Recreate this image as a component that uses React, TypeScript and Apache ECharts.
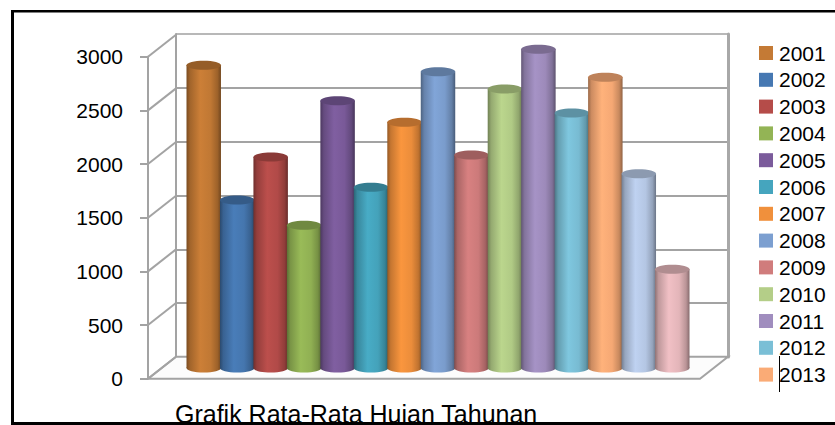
import React, { useEffect, useRef } from "react";
import * as echarts from "echarts";

const years = ["2001", "2002", "2003", "2004", "2005", "2006", "2007", "2008", "2009", "2010", "2011", "2012", "2013", "2014", "2015"];
const legendYears = years.slice(0, 13);
const rainfall = [2820, 1565, 1965, 1330, 2490, 1685, 2290, 2760, 1985, 2600, 2970, 2375, 2710, 1810, 920];
const barColors = ["#C47A35", "#4678B2", "#B54C49", "#93B455", "#7B5B9B", "#45A5BE", "#F0903C", "#7C9FD0", "#D07C7C", "#B4CE88", "#A08DBE", "#7ABFD6", "#FAAB76", "#B8CAE8", "#E8B9BD"];
const axisTicks = [0, 500, 1000, 1500, 2000, 2500, 3000];
const titleText = "Grafik Rata-Rata Hujan Tahunan";

const GRID_GREY = "#a3a3a3";
const FONT = "'Liberation Sans', Arial, sans-serif";
const DEPTH_X = 28;
const DEPTH_Y = 22;

// Scales a hex colour's channels to get the shaded sides of a cylinder.
function shade(hex: string, k: number): string {
  const n = parseInt(hex.slice(1), 16);
  const ch = (v: number) => Math.max(0, Math.min(255, Math.round(v * k)));
  return `rgb(${ch((n >> 16) & 255)},${ch((n >> 8) & 255)},${ch(n & 255)})`;
}

function cylinderFill(hex: string) {
  return new echarts.graphic.LinearGradient(0, 0, 1, 0, [
    { offset: 0, color: shade(hex, 0.62) },
    { offset: 0.1, color: shade(hex, 0.82) },
    { offset: 0.4, color: shade(hex, 1.04) },
    { offset: 0.7, color: shade(hex, 0.98) },
    { offset: 0.9, color: shade(hex, 0.8) },
    { offset: 1, color: shade(hex, 0.58) },
  ]);
}

// One cylinder: shaft, rounded foot and darker elliptical cap.
function renderCylinder(color: string) {
  return (_params: any, api: any) => {
    const top = api.coord([api.value(0), api.value(1)]);
    const base = api.coord([api.value(0), 0]);
    const width = api.size([1, 0])[0] + 1;
    const rx = width / 2;
    const ry = 4.5;
    const fill = cylinderFill(color);
    return {
      type: "group",
      children: [
        { type: "ellipse", shape: { cx: base[0], cy: base[1], rx, ry }, style: { fill } },
        { type: "rect", shape: { x: base[0] - rx, y: top[1], width, height: base[1] - top[1] }, style: { fill } },
        { type: "ellipse", shape: { cx: top[0], cy: top[1], rx, ry }, style: { fill: shade(color, 0.76) } },
      ],
    };
  };
}

// Receding lines of the left wall and the floor, hung on the front axis scale.
function renderPerspective(params: any, api: any) {
  const p = api.coord([0, api.value(0)]);
  const children: any[] = [];
  if (params.dataIndex === 0) {
    const end = api.coord([1, 0]);
    children.push({
      type: "polygon",
      shape: {
        points: [
          [p[0], p[1]],
          [end[0], p[1]],
          [end[0] + DEPTH_X, p[1] - DEPTH_Y],
          [p[0] + DEPTH_X, p[1] - DEPTH_Y],
        ],
      },
      style: { fill: "#fcfcfc", stroke: GRID_GREY, lineWidth: 2 },
    });
  }
  children.push({
    type: "line",
    shape: { x1: p[0], y1: p[1], x2: p[0] + DEPTH_X, y2: p[1] - DEPTH_Y },
    style: { stroke: GRID_GREY, lineWidth: 2 },
  });
  return { type: "group", children };
}

export default function App() {
  const ref = useRef<HTMLDivElement>(null);

  useEffect(() => {
    const chart = echarts.init(ref.current!, undefined, { renderer: "svg" });
    const plainX = { show: false };
    const axisLine = { show: true, lineStyle: { color: GRID_GREY, width: 2 } };
    chart.setOption({
      animation: false,
      backgroundColor: "#ffffff",
      title: {
        text: titleText,
        left: 175,
        top: 401,
        padding: 0,
        textStyle: { fontFamily: FONT, fontSize: 25, fontWeight: "normal", color: "#000" },
      },
      legend: {
        data: legendYears,
        orient: "vertical",
        left: 759,
        top: 41,
        padding: 0,
        itemWidth: 14,
        itemHeight: 14,
        itemGap: 2.8,
        icon: "rect",
        textStyle: { fontFamily: FONT, fontSize: 21, color: "#000", lineHeight: 24, padding: [0, 0, 0, 1] },
      },
      grid: [
        { left: 148, top: 56.7, width: 552, height: 322 },
        { left: 176, top: 34, width: 552, height: 323 },
        { left: 187, top: 46, width: 502, height: 322 },
      ],
      xAxis: [
        { ...plainX, gridIndex: 0, type: "value", min: 0, max: 1 },
        { ...plainX, gridIndex: 1, type: "value", min: 0, max: 1 },
        { ...plainX, gridIndex: 2, type: "category", data: years },
      ],
      yAxis: [
        {
          gridIndex: 0,
          type: "value",
          min: 0,
          max: 3000,
          interval: 500,
          axisLine,
          axisTick: { show: true, length: 8, lineStyle: { color: GRID_GREY, width: 2 } },
          axisLabel: { margin: 25, fontFamily: FONT, fontSize: 21, color: "#000", formatter: (v: number) => String(v) },
          splitLine: { show: false },
        },
        {
          gridIndex: 1,
          type: "value",
          min: 0,
          max: 3000,
          interval: 500,
          axisLine,
          axisTick: { show: false },
          axisLabel: { show: false },
          splitLine: {
            show: true,
            lineStyle: { width: 2, color: [GRID_GREY, GRID_GREY, GRID_GREY, GRID_GREY, GRID_GREY, GRID_GREY, "#b8b8b8"] },
          },
        },
        {
          gridIndex: 1,
          type: "value",
          position: "right",
          min: 0,
          max: 3000,
          interval: 500,
          axisLine: { show: true, lineStyle: { color: "#a8a8a8", width: 3 } },
          axisTick: { show: false },
          axisLabel: { show: false },
          splitLine: { show: false },
        },
        { gridIndex: 2, type: "value", min: 0, max: 3000, interval: 500, show: false },
      ],
      series: [
        {
          type: "custom",
          name: "grid-depth",
          xAxisIndex: 0,
          yAxisIndex: 0,
          coordinateSystem: "cartesian2d",
          clip: false,
          silent: true,
          encode: { x: 1, y: 0 },
          renderItem: renderPerspective,
          data: axisTicks.map((t) => [t, 0]),
          z: 1,
        },
        ...years.map((year, i) => ({
          type: "custom",
          name: year,
          xAxisIndex: 2,
          yAxisIndex: 3,
          coordinateSystem: "cartesian2d",
          clip: false,
          itemStyle: { color: barColors[i] },
          encode: { x: 0, y: 1 },
          renderItem: renderCylinder(barColors[i]),
          data: [[i, rainfall[i]]],
          z: 3 + i,
        })),
      ],
      graphic: [
        { type: "rect", z: 100, silent: true, shape: { x: 11, y: 10, width: 824, height: 2.5 }, style: { fill: "#000" } },
        { type: "rect", z: 100, silent: true, shape: { x: 11, y: 10, width: 3, height: 415 }, style: { fill: "#000" } },
        { type: "rect", z: 100, silent: true, shape: { x: 11, y: 422, width: 824, height: 3 }, style: { fill: "#000" } },
        { type: "line", z: 100, silent: true, shape: { x1: 779.5, y1: 356, x2: 779.5, y2: 392 }, style: { stroke: "#000", lineWidth: 1 } },
      ],
    });
    return () => chart.dispose();
  }, []);

  return <div ref={ref} style={{ position: "absolute", left: 0, top: 0, width: 835, height: 425 }} />;
}
